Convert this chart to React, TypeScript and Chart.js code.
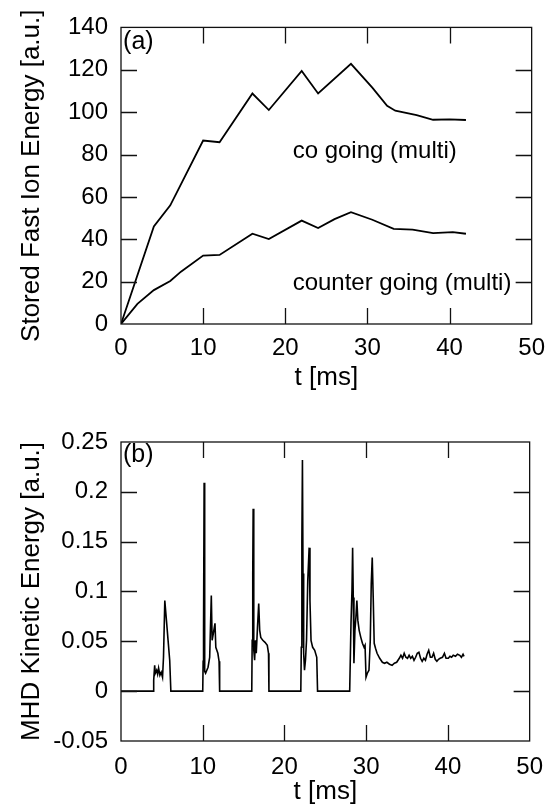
import React, { useEffect, useRef } from "react";
import { Chart, registerables } from "chart.js";

Chart.register(...registerables);

// ---- Panel (a): stored fast ion energy ----
const timeCo = [0, 4, 6, 10, 12, 16, 18, 22, 24, 28, 30.6, 32.4, 33.4, 36, 38, 40, 42];
const energyCo = [0, 46, 56, 86.6, 85.8, 108.8, 101, 119.4, 108.8, 122.8, 111.6, 103, 100.7, 98.6, 96.4, 96.6, 96.3];

const timeCounter = [0, 2, 4, 6, 7.3, 10, 12, 16, 18, 22, 24, 26, 28, 30.6, 33.2, 35.5, 38, 40.4, 42];
const energyCounter = [0, 9.5, 16, 20.3, 24.7, 32.3, 32.6, 42.6, 40.1, 48.8, 45.3, 49.5, 52.8, 49.2, 44.9, 44.5, 42.9, 43.4, 42.6];

// ---- Panel (b): MHD kinetic energy ----
const timeMhd = [
  0, 3.96, 4.0, 4.12, 4.2, 4.36, 4.48, 4.6, 4.76, 4.92, 5.08, 5.2, 5.36, 5.56, 5.76, 5.96, 6.1,
  10.0, 10.05, 10.1, 10.17, 10.24, 10.35, 10.5, 10.65, 10.85, 11.05, 11.15, 11.3, 11.5, 11.6, 11.85, 12.0, 12.07,
  16.0, 16.05, 16.12, 16.17, 16.22, 16.27, 16.35, 16.45, 16.55, 16.7, 16.85, 16.97, 17.1, 17.35, 17.62, 17.9, 18.05, 18.1,
  22.0, 22.06, 22.13, 22.2, 22.27, 22.35, 22.45, 22.57, 22.7, 22.85, 23.02, 23.12, 23.25, 23.45, 23.7, 23.95, 24.05,
  27.98, 28.14, 28.26, 28.34, 28.42, 28.5, 28.62, 28.74, 28.86, 28.98, 29.14, 29.34, 29.54, 29.74, 29.86, 29.98,
  30.14, 30.34, 30.5, 30.62, 30.74, 30.86, 30.98, 31.14, 31.33, 31.65, 31.98, 32.25, 32.53, 32.85, 33.17, 33.45,
  33.73, 34.05, 34.25, 34.45, 34.65, 34.85, 35.05, 35.25, 35.45, 35.65, 35.85, 36.05, 36.25, 36.45, 36.65, 36.85,
  37.05, 37.25, 37.45, 37.65, 37.85, 38.05, 38.25, 38.45, 38.65, 38.85, 39.05, 39.33, 39.57, 39.77, 40.05, 40.25,
  40.45, 40.65, 40.93, 41.17, 41.45, 41.65, 41.85, 41.97,
];
const energyMhd = [
  0, 0, 0.011, 0.026, 0.018, 0.021, 0.017, 0.023, 0.016, 0.019, 0.014, 0.034, 0.091, 0.071, 0.051, 0.031, 0,
  0, 0.03, 0.06, 0.209, 0.02, 0.018, 0.021, 0.024, 0.034, 0.096, 0.051, 0.058, 0.068, 0.044, 0.038, 0.03, 0,
  0, 0.051, 0.118, 0.183, 0.118, 0.041, 0.031, 0.051, 0.038, 0.064, 0.088, 0.061, 0.054, 0.051, 0.049, 0.046, 0.038, 0,
  0, 0.044, 0.151, 0.232, 0.118, 0.038, 0.021, 0.031, 0.051, 0.111, 0.144, 0.091, 0.051, 0.044, 0.041, 0.034, 0,
  0, 0.068, 0.101, 0.144, 0.094, 0.028, 0.061, 0.074, 0.091, 0.071, 0.061, 0.054, 0.048, 0.044, 0.046, 0.014,
  0.018, 0.021, 0.051, 0.108, 0.134, 0.094, 0.048, 0.043, 0.038, 0.033, 0.029, 0.028, 0.029, 0.027, 0.026, 0.028,
  0.029, 0.033, 0.036, 0.033, 0.038, 0.034, 0.033, 0.036, 0.033, 0.035, 0.031, 0.034, 0.038, 0.039, 0.033, 0.030,
  0.033, 0.031, 0.037, 0.041, 0.034, 0.034, 0.038, 0.032, 0.030, 0.032, 0.033, 0.034, 0.038, 0.033, 0.033, 0.035,
  0.034, 0.036, 0.035, 0.037, 0.036, 0.034, 0.037, 0.035,
];

const xTickValues = [0, 10, 20, 30, 40, 50];
const yTickValuesTop = [0, 20, 40, 60, 80, 100, 120, 140];
const yTickValuesBottom = [-0.05, 0, 0.05, 0.1, 0.15, 0.2, 0.25];

const labelCo = "co going (multi)";
const labelCounter = "counter going (multi)";
const panelA = "(a)";
const panelB = "(b)";
const xTitle = "t [ms]";
const yTitleTop = "Stored Fast Ion Energy [a.u.]";
const yTitleBottom = "MHD Kinetic Energy [a.u.]";

const FONT = "'Liberation Sans', Arial, Helvetica, sans-serif";

type Note = { text: string; x: number; y: number; size: number };

function toPoints(xs: number[], ys: number[]) {
  return xs.map((x, i) => ({ x, y: ys[i] }));
}

function framePlugin(xInner: number[], yInner: number[], notes: Note[]) {
  return {
    id: "frame",
    afterDraw(chart: any) {
      const { ctx, chartArea: a, scales } = chart;
      const x = scales.x;
      const y = scales.y;
      const L = 16;
      ctx.save();
      ctx.strokeStyle = "#111";
      ctx.lineWidth = 1.3;
      ctx.strokeRect(a.left, a.top, a.right - a.left, a.bottom - a.top);
      ctx.beginPath();
      xInner.forEach((v) => {
        const px = Math.round(x.getPixelForValue(v)) + 0.5;
        ctx.moveTo(px, a.bottom);
        ctx.lineTo(px, a.bottom - L);
        ctx.moveTo(px, a.top);
        ctx.lineTo(px, a.top + L);
      });
      yInner.forEach((v) => {
        const py = Math.round(y.getPixelForValue(v)) + 0.5;
        ctx.moveTo(a.left, py);
        ctx.lineTo(a.left + L, py);
        ctx.moveTo(a.right, py);
        ctx.lineTo(a.right - L, py);
      });
      ctx.stroke();
      ctx.fillStyle = "#000";
      ctx.textAlign = "left";
      ctx.textBaseline = "middle";
      notes.forEach((n) => {
        ctx.font = `${n.size}px ${FONT}`;
        ctx.fillText(n.text, x.getPixelForValue(n.x), y.getPixelForValue(n.y));
      });
      ctx.restore();
    },
  };
}

function makeConfig(opts: {
  datasets: any[];
  yMin: number;
  yMax: number;
  yStep: number;
  yTitle: string;
  padTop: number;
  xAxisHeight: number;
  xTickPad: number;
  xTitlePadBottom: number;
  plugin: any;
  fmt: (v: number) => string;
}) {
  return {
    type: "line" as const,
    data: { datasets: opts.datasets },
    options: {
      responsive: false,
      animation: false,
      devicePixelRatio: 1,
      layout: { padding: { top: opts.padTop, right: 17, left: 0, bottom: 0 } },
      plugins: { legend: { display: false }, tooltip: { enabled: false } },
      elements: { point: { radius: 0 }, line: { tension: 0 } },
      scales: {
        x: {
          type: "linear",
          min: 0,
          max: 50,
          afterBuildTicks: (s: any) => {
            s.ticks = xTickValues.map((v) => ({ value: v }));
          },
          afterFit: (s: any) => {
            s.height = opts.xAxisHeight;
          },
          grid: { display: false, drawTicks: false, tickLength: 0 },
          border: { display: false },
          ticks: {
            color: "#000",
            font: { family: FONT, size: 24 },
            padding: opts.xTickPad,
            maxRotation: 0,
          },
          title: {
            display: true,
            text: xTitle,
            color: "#000",
            font: { family: FONT, size: 26 },
            padding: { top: 0, bottom: opts.xTitlePadBottom },
          },
        },
        y: {
          type: "linear",
          min: opts.yMin,
          max: opts.yMax,
          ticks: {
            stepSize: opts.yStep,
            color: "#000",
            font: { family: FONT, size: 24 },
            padding: 13,
            callback: (v: any) => opts.fmt(Number(v)),
          },
          afterFit: (s: any) => {
            s.width = 121;
          },
          grid: { display: false, drawTicks: false, tickLength: 0 },
          border: { display: false },
          title: {
            display: true,
            text: opts.yTitle,
            color: "#000",
            font: { family: FONT, size: 26 },
            padding: { top: 16, bottom: 0 },
          },
        },
      },
    },
    plugins: [opts.plugin],
  };
}

function TopChart() {
  const ref = useRef<HTMLCanvasElement>(null);
  useEffect(() => {
    if (!ref.current) return;
    const chart = new Chart(
      ref.current,
      makeConfig({
        datasets: [
          {
            data: toPoints(timeCo, energyCo),
            borderColor: "#000",
            borderWidth: 1.8,
            pointRadius: 0,
          },
          {
            data: toPoints(timeCounter, energyCounter),
            borderColor: "#000",
            borderWidth: 1.8,
            pointRadius: 0,
          },
        ],
        yMin: yTickValuesTop[0],
        yMax: yTickValuesTop[yTickValuesTop.length - 1],
        yStep: 20,
        yTitle: yTitleTop,
        padTop: 25,
        xAxisHeight: 76,
        xTickPad: 10,
        xTitlePadBottom: 7,
        fmt: (v) => String(v),
        plugin: framePlugin([10, 20, 30, 40], [20, 40, 60, 80, 100, 120], [
          { text: panelA, x: 0.25, y: 133, size: 25 },
          { text: labelCo, x: 20.9, y: 81.7, size: 24 },
          { text: labelCounter, x: 20.9, y: 19.4, size: 24 },
        ]),
      }) as any
    );
    return () => chart.destroy();
  }, []);
  return <canvas ref={ref} width={555} height={400} style={{ display: "block" }} />;
}

function BottomChart() {
  const ref = useRef<HTMLCanvasElement>(null);
  useEffect(() => {
    if (!ref.current) return;
    const chart = new Chart(
      ref.current,
      makeConfig({
        datasets: [
          {
            data: toPoints(timeMhd, energyMhd),
            borderColor: "#000",
            borderWidth: 1.6,
            pointRadius: 0,
          },
        ],
        yMin: yTickValuesBottom[0],
        yMax: yTickValuesBottom[yTickValuesBottom.length - 1],
        yStep: 0.05,
        yTitle: yTitleBottom,
        padTop: 42,
        xAxisHeight: 70,
        xTickPad: 12,
        xTitlePadBottom: 4,
        fmt: (v) => String(Number(v.toFixed(2))),
        plugin: framePlugin([10, 20, 30, 40], [0, 0.05, 0.1, 0.15, 0.2], [
          { text: panelB, x: 0.25, y: 0.237, size: 25 },
        ]),
      }) as any
    );
    return () => chart.destroy();
  }, []);
  return <canvas ref={ref} width={555} height={411} style={{ display: "block" }} />;
}

export default function App() {
  return (
    <div style={{ position: "absolute", left: 0, top: 0, width: 555, height: 811, background: "#fff" }}>
      <TopChart />
      <BottomChart />
    </div>
  );
}
